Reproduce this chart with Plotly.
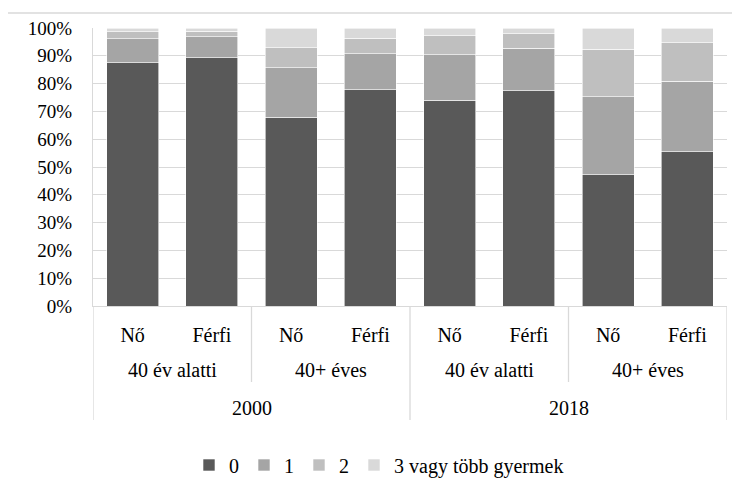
import plotly.graph_objects as go

genders = ["Nő", "Férfi", "Nő", "Férfi", "Nő", "Férfi", "Nő", "Férfi"]
age_groups = ["40 év alatti", "40+ éves", "40 év alatti", "40+ éves"]
years = ["2000", "2018"]

series_names = ["0", "1", "2", "3 vagy több gyermek"]
v0 = [87.5, 89.3, 67.9, 77.8, 74.1, 77.4, 47.2, 55.5]
v1 = [8.7, 7.6, 17.8, 13.0, 16.2, 15.3, 28.1, 25.3]
v2 = [2.4, 2.0, 7.2, 5.6, 6.9, 5.3, 17.1, 13.9]
v3 = [1.4, 1.1, 7.1, 3.6, 2.8, 2.0, 7.6, 5.3]
colors = ["#595959", "#a5a5a5", "#bfbfbf", "#d9d9d9"]

W, H = 740, 485
OFF = 8  # page body margin
ml, mr, mt, mb = 93 - OFF, 13 + OFF, 28 - OFF, 179 + OFF
ph = H - mt - mb
pw = W - ml - mr
FONT = "Liberation Serif"
FS = 20
GRID = "#d9d9d9"

xs = list(range(len(genders)))
fig = go.Figure()
for name, vals, col in zip(series_names, [v0, v1, v2, v3], colors):
    fig.add_trace(go.Bar(x=xs, y=[v / 100 for v in vals], name=name,
                         marker=dict(color=col, line=dict(color="white", width=0.6))))

def py(px):
    return -px / ph

annotations = []
shapes = []
n_age = len(age_groups)
per_age = len(genders) // n_age
for i, a in enumerate(age_groups):
    cx = i * per_age + (per_age - 1) / 2
    annotations.append(dict(x=cx, y=py(64), xref="x", yref="paper", text=a,
                            showarrow=False, font=dict(size=FS, color="#000000", family=FONT),
                            xanchor="center", yanchor="middle"))
per_year = len(genders) // len(years)
for i, yname in enumerate(years):
    cx = i * per_year + (per_year - 1) / 2
    annotations.append(dict(x=cx, y=py(102), xref="x", yref="paper", text=yname,
                            showarrow=False, font=dict(size=FS, color="#000000", family=FONT),
                            xanchor="center", yanchor="middle"))
for k in range(n_age + 1):
    xb = k * per_age - 0.5
    is_year = (k * per_age) % per_year == 0
    shapes.append(dict(type="line", xref="x", yref="paper", x0=xb, x1=xb, y0=0,
                       y1=py(114 if is_year else 76), line=dict(color=GRID, width=1.3)))
shapes.append(dict(type="rect", xref="paper", yref="paper",
                   x0=(7 - 93) / pw, x1=(770 - 93) / pw,
                   y0=py(220), y1=1 + 15 / ph, line=dict(color=GRID, width=1.3),
                   fillcolor="rgba(0,0,0,0)", layer="below"))

fig.update_layout(
    width=W, height=H,
    margin=dict(l=ml, r=mr, t=mt, b=mb, autoexpand=False),
    paper_bgcolor="white", plot_bgcolor="white",
    barmode="stack", bargap=0.344,
    font=dict(family=FONT, size=FS, color="#000000"),
    showlegend=True,
    legend=dict(orientation="h", x=(379 - 93) / pw, xanchor="center",
                y=py(159), yanchor="middle", font=dict(size=FS, family=FONT),
                itemwidth=30, traceorder="normal"),
    annotations=annotations, shapes=shapes,
    hovermode=False,
)
fig.update_xaxes(range=[-0.5, len(genders) - 0.5], tickmode="array", tickvals=xs,
                 ticktext=genders, showgrid=False, showline=True, linecolor=GRID,
                 linewidth=1.3, ticks="", ticklabelstandoff=11,
                 tickfont=dict(size=FS, family=FONT), zeroline=False)
fig.update_yaxes(range=[0, 1], tickformat=".0%", dtick=0.1, showgrid=True,
                 gridcolor=GRID, gridwidth=1.3, showline=True, linecolor=GRID,
                 linewidth=1.3, zeroline=False, ticks="", ticklabelstandoff=16,
                 tickfont=dict(size=19, family=FONT))

fig.write_html("out.html")
